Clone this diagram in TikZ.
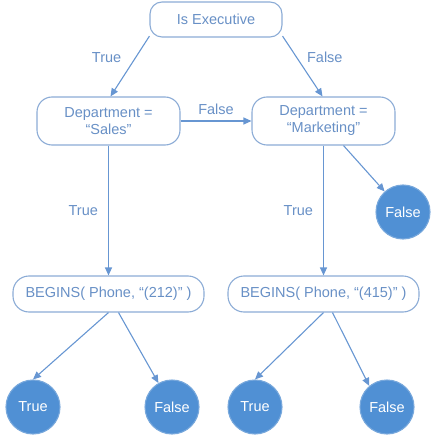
\documentclass[tikz,border=0pt]{standalone}
\usepackage{fontspec}
\setmainfont{Liberation Sans}
\usetikzlibrary{arrows.meta, positioning}
\definecolor{leafblue}{HTML}{5090D4}
\definecolor{leafedge}{HTML}{78A8DC}
\definecolor{edgeblue}{HTML}{6796D2}
\definecolor{textblue}{HTML}{6890C6}
\definecolor{boxline}{HTML}{8CACD6}

\begin{document}
\begin{tikzpicture}[
  x=1pt, y=1pt,
  font=\fontsize{14.5}{17}\selectfont,
  condbox/.style={draw=boxline, line width=1.1pt, fill=white, text=textblue, align=center, inner sep=0pt},
  topbox/.style={condbox, rounded corners=12pt, minimum width=132pt, minimum height=35pt},
  deptbox/.style={condbox, rounded corners=15pt, minimum width=143pt, minimum height=48pt},
  phonebox/.style={condbox, rounded corners=16pt, minimum width=191pt, minimum height=36pt},
  leaf/.style={circle, fill=leafblue, draw=leafedge, line width=1.1pt, text=white, inner sep=0pt, minimum size=54pt},
  arr/.style={-{Triangle[length=8pt, width=7pt]}, draw=edgeblue, line width=1.1pt},
  lbl/.style={text=textblue, inner sep=0pt},
]
  \useasboundingbox (0,0) rectangle (437,-443);

  % Nodes
  \node[topbox] (exec) at (216,-19.5) {Is Executive};
  \node[deptbox] (sales) at (108.5,-121) {Department =\\``Sales''};
  \node[deptbox] (mkt) at (323.5,-121) {Department =\\``Marketing''};
  \node[leaf] (f0) at (403,-212) {False};
  \node[phonebox] (b212) at (108.5,-294) {BEGINS( Phone, ``(212)'' )};
  \node[phonebox] (b415) at (323.5,-294) {BEGINS( Phone, ``(415)'' )};
  \node[leaf] (t1) at (33,-407) {True};
  \node[leaf] (f1) at (172,-407) {False};
  \node[leaf] (t2) at (255,-407) {True};
  \node[leaf] (f2) at (387,-407) {False};

  % Arrows
  \draw[arr] (exec.194) -- node[lbl, pos=0.35, left=14pt] {True} ([xshift=2pt]sales.north);
  \draw[arr] (exec.-14) -- node[lbl, pos=0.35, right=10pt] {False} ([xshift=-1pt]mkt.north);
  \draw[arr] (sales) -- node[lbl, above=6pt] {False} (mkt);
  \draw[arr] (sales) -- node[lbl, left=10pt] {True} (b212);
  \draw[arr] (mkt) -- node[lbl, left=10pt] {True} (b415);
  \draw[arr] ([xshift=20pt]mkt.south) -- (f0);
  \draw[arr] (b212.south) -- (t1.north);
  \draw[arr] ([xshift=10pt]b212.south) -- (f1);
  \draw[arr] (b415.south) -- (t2.north);
  \draw[arr] ([xshift=9pt]b415.south) -- (f2.130);

\end{tikzpicture}
\end{document}
